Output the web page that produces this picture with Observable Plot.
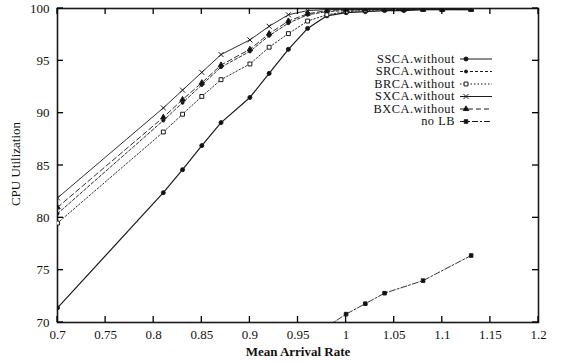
<!DOCTYPE html>
<html>
<head>
<meta charset="utf-8">
<script src="https://cdn.jsdelivr.net/npm/d3@7"></script>
<script src="https://cdn.jsdelivr.net/npm/@observablehq/plot@0.6"></script>
<style>
  html, body { margin: 0; padding: 0; background: #fff; }
  #chart { position: relative; width: 562px; height: 362px; }
</style>
</head>
<body>
<div id="chart"></div>
<script>
const xs = [0.7, 0.81, 0.83, 0.85, 0.87, 0.9, 0.92, 0.94, 0.96, 0.98, 1.0, 1.02, 1.04, 1.06, 1.08, 1.1, 1.13];
const ssca = [71.4, 82.4, 84.6, 86.9, 89.1, 91.5, 93.8, 96.1, 98.1, 99.3, 99.6, 99.7, 99.8, 99.8, 99.9, 99.9, 99.9];
const srca = [80.4, 89.3, 91.0, 92.7, 94.4, 95.9, 97.4, 98.6, 99.4, 99.7, 99.8, 99.9, 99.9, 99.9, 99.9, 99.9, 99.9];
const brca = [79.5, 88.2, 89.9, 91.6, 93.2, 94.7, 96.3, 97.6, 98.8, 99.4, 99.7, 99.8, 99.9, 99.9, 99.9, 99.9, 99.9];
const sxca = [81.9, 90.5, 92.2, 93.9, 95.6, 97.0, 98.3, 99.4, 99.8, 99.9, 99.9, 99.9, 100, 100, 100, 100, 100];
const bxca = [81.0, 89.6, 91.3, 92.9, 94.6, 96.1, 97.6, 98.8, 99.5, 99.8, 99.9, 99.9, 99.9, 99.9, 99.9, 99.9, 99.9];
const nolbX = [0.98, 1.0, 1.02, 1.04, 1.08, 1.13];
const nolb = [69.6, 70.8, 71.8, 72.8, 74.0, 76.4];
const seriesNames = ["SSCA.without", "SRCA.without", "BRCA.without", "SXCA.without", "BXCA.without", "no LB"];
const xTicks = [0.7, 0.75, 0.8, 0.85, 0.9, 0.95, 1, 1.05, 1.1, 1.15, 1.2];
const yTicks = [70, 75, 80, 85, 90, 95, 100];

const styles = {
  "SSCA.without": {dash: null, symbol: "circle", fill: "#111", r: 2},
  "SRCA.without": {dash: "3,2", symbol: "circle", fill: "#111", r: 1.5},
  "BRCA.without": {dash: "1.5,2", symbol: "square", fill: "white", r: 2.2},
  "SXCA.without": {dash: null, symbol: "times", fill: "none", r: 2.4},
  "BXCA.without": {dash: "5,3", symbol: "triangle", fill: "#111", r: 2},
  "no LB": {dash: "6,2,2,2", symbol: "square", fill: "#111", r: 2}
};

const data = [];
[ssca, srca, brca, sxca, bxca].forEach((arr, i) => {
  arr.forEach((v, j) => data.push({series: seriesNames[i], x: xs[j], y: v}));
});
nolb.forEach((v, j) => data.push({series: "no LB", x: nolbX[j], y: v}));

const ink = "#1a1a1a";
const marks = [];
for (const name of seriesNames) {
  const s = styles[name];
  const d = data.filter(p => p.series === name);
  marks.push(Plot.line(d, {x: "x", y: "y", stroke: ink, strokeWidth: name === "SSCA.without" ? 1.2 : 0.9, strokeDasharray: s.dash, clip: true}));
  marks.push(Plot.dot(d, {x: "x", y: "y", symbol: () => s.symbol, r: s.r, fill: s.fill, stroke: ink, strokeWidth: 1, clip: true}));
}

const plot = Plot.plot({
  width: 562,
  height: 362,
  marginLeft: 57,
  marginRight: 24,
  marginTop: 8,
  marginBottom: 40,
  style: {fontFamily: "'Liberation Serif', 'DejaVu Serif', serif", fontSize: "13px", color: "#111", background: "white"},
  x: {domain: [0.7, 1.2]},
  y: {domain: [70, 100]},
  marks: [
    Plot.frame({stroke: ink, strokeWidth: 1.6}),
    Plot.axisX(xTicks, {anchor: "bottom", tickSize: 0, tickPadding: 7, tickFormat: d => String(d), label: null}),
    Plot.axisY(yTicks, {anchor: "left", tickSize: 0, tickPadding: 8, label: null}),
    ...marks
  ]
});

document.getElementById("chart").appendChild(plot);

const svg = d3.select(plot);
const sx = plot.scale("x"), sy = plot.scale("y");
const xr = sx.range, yr = sy.range;
const xL = Math.min(...xr), xR = Math.max(...xr), yT = Math.min(...yr), yB = Math.max(...yr);
const tk = 6;
const ticksG = svg.append("g").attr("stroke", "#000").attr("stroke-width", 1.3).attr("fill", "none");
xTicks.forEach(v => {
  const px = sx.apply(v);
  ticksG.append("line").attr("x1", px).attr("x2", px).attr("y1", yB).attr("y2", yB - tk);
  ticksG.append("line").attr("x1", px).attr("x2", px).attr("y1", yT).attr("y2", yT + tk);
});
yTicks.forEach(v => {
  const py = sy.apply(v);
  ticksG.append("line").attr("x1", xL).attr("x2", xL + tk).attr("y1", py).attr("y2", py);
  ticksG.append("line").attr("x1", xR).attr("x2", xR - tk).attr("y1", py).attr("y2", py);
});

svg.append("text")
  .attr("transform", "translate(20,164) rotate(-90)")
  .attr("text-anchor", "middle")
  .attr("font-size", 13)
  .attr("fill", "#111")
  .text("CPU Utilization");
svg.append("text")
  .attr("x", 298).attr("y", 356)
  .attr("text-anchor", "middle")
  .attr("font-size", 13)
  .attr("font-weight", "bold")
  .attr("fill", "#111")
  .text("Mean Arrival Rate");

const legend = svg.append("g").attr("font-size", 12.4).attr("letter-spacing", "0.5px").attr("fill", "#111");
const symMap = {circle: d3.symbolCircle, square: d3.symbolSquare, times: d3.symbolTimes, triangle: d3.symbolTriangle};
seriesNames.forEach((name, i) => {
  const s = styles[name];
  const y = 59 + i * 12.5;
  legend.append("text").attr("x", 455).attr("y", y).attr("dy", "0.32em").attr("text-anchor", "end").text(name);
  legend.append("line").attr("x1", 460).attr("x2", 492).attr("y1", y).attr("y2", y)
    .attr("stroke", ink).attr("stroke-width", 1).attr("stroke-dasharray", s.dash);
  legend.append("path")
    .attr("transform", `translate(466,${y})`)
    .attr("d", d3.symbol(symMap[s.symbol], Math.PI * s.r * s.r)())
    .attr("fill", s.fill).attr("stroke", ink).attr("stroke-width", 1);
});
</script>
</body>
</html>
